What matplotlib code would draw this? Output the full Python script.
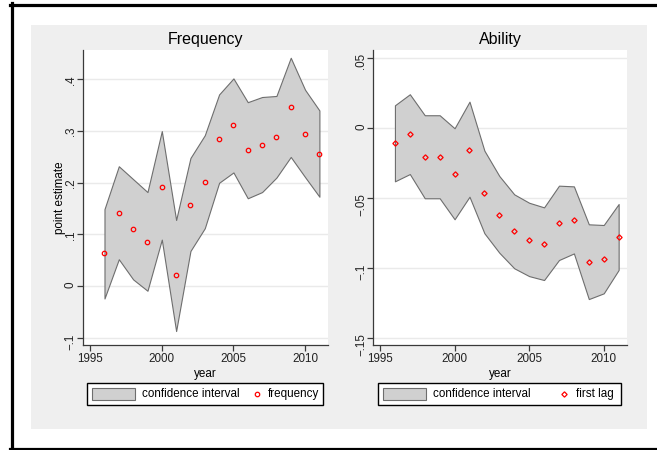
import matplotlib
matplotlib.use("Agg")
import matplotlib.pyplot as plt
from matplotlib.lines import Line2D
from matplotlib.patches import Rectangle

W, H = 657, 450

years = list(range(1996, 2012))

# Frequency: point estimates with confidence bounds
freq_est = [0.065, 0.142, 0.110, 0.086, 0.192, 0.021, 0.157, 0.201,
            0.284, 0.311, 0.263, 0.273, 0.288, 0.346, 0.295, 0.256]
freq_lo = [-0.024, 0.052, 0.013, -0.009, 0.090, -0.087, 0.068, 0.112,
           0.200, 0.220, 0.170, 0.182, 0.210, 0.250, 0.211, 0.173]
freq_hi = [0.149, 0.232, 0.207, 0.182, 0.300, 0.128, 0.248, 0.292,
           0.371, 0.402, 0.356, 0.366, 0.368, 0.442, 0.380, 0.340]

# Ability: first lag estimates with confidence bounds
abil_est = [-0.0111, -0.0047, -0.0207, -0.0207, -0.0329, -0.0157, -0.0464, -0.0626,
            -0.0738, -0.0800, -0.0831, -0.0680, -0.0659, -0.0957, -0.0940, -0.0783]
abil_lo = [-0.0383, -0.0331, -0.0504, -0.0504, -0.0654, -0.0493, -0.0754, -0.0893,
           -0.1004, -0.1060, -0.1088, -0.0945, -0.0898, -0.1224, -0.1183, -0.1016]
abil_hi = [0.0160, 0.0239, 0.0089, 0.0089, -0.0004, 0.0186, -0.0164, -0.0345,
           -0.0476, -0.0536, -0.0569, -0.0414, -0.0419, -0.0690, -0.0695, -0.0545]

xticks = [1995, 2000, 2005, 2010]
freq_yticks = [-0.1, 0, 0.1, 0.2, 0.3, 0.4]
freq_ylabels = ["\u2212.1", "0", ".1", ".2", ".3", ".4"]
abil_yticks = [-0.15, -0.1, -0.05, 0, 0.05]
abil_ylabels = ["\u2212.15", "\u2212.1", "\u2212.05", "0", ".05"]

CI_FILL = "#d0d0d0"
CI_EDGE = "#6e6e6e"
PANEL_BG = "#efefef"
GRID = "#eaeaea"
AXIS = "#3a3a3a"
SMALL = 8.4

plt.rcParams["font.family"] = ["Liberation Sans", "DejaVu Sans"]


def fig_box(x0, y0, x1, y1):
    """Pixel box (top-left origin) -> figure fraction [left, bottom, w, h]."""
    return [x0 / W, 1 - y1 / H, (x1 - x0) / W, (y1 - y0) / H]


def fig_xy(x, y):
    return x / W, 1 - y / H


def draw_panel(ax, title, est, lo, hi, marker, ms, yticks, ylabels, ylim, xlim):
    ax.fill_between(years, lo, hi, facecolor=CI_FILL, edgecolor=CI_EDGE,
                    linewidth=0.8, zorder=2)
    ax.plot(years, est, linestyle="none", marker=marker, ms=ms, mfc="none",
            mec="red", mew=0.9, zorder=3)
    ax.set_xlim(xlim)
    ax.set_ylim(ylim)
    ax.set_xticks(xticks)
    ax.set_yticks(yticks, ylabels)
    for lab in ax.get_yticklabels():
        lab.set_rotation(90)
    ax.yaxis.grid(True, color=GRID, linewidth=1.0)
    ax.set_axisbelow(True)
    for side in ("top", "right"):
        ax.spines[side].set_visible(False)
    for side in ("left", "bottom"):
        ax.spines[side].set_color(AXIS)
        ax.spines[side].set_linewidth(0.9)
    ax.tick_params(length=4, width=0.9, color=AXIS, labelsize=SMALL,
                   labelcolor="#222222")
    ax.tick_params(axis="x", pad=2)
    ax.tick_params(axis="y", pad=0.5)
    ax.set_title(title, fontsize=11.5, pad=4)
    ax.set_xlabel("year", fontsize=SMALL, labelpad=2)


def draw_key(fig, x0, x1, marker_x, marker, ms, label):
    y0, y1 = 382.7, 405.0
    yc = (y0 + y1) / 2
    fx, fy = fig_xy(x0, y1)
    fig.add_artist(Rectangle((fx, fy), (x1 - x0) / W, (y1 - y0) / H,
                             transform=fig.transFigure, facecolor="white",
                             edgecolor="black", linewidth=1.0))
    sx, sy = fig_xy(x0 + 5, yc + 6)
    fig.add_artist(Rectangle((sx, sy), 43 / W, 12 / H,
                             transform=fig.transFigure, facecolor=CI_FILL,
                             edgecolor=CI_EDGE, linewidth=0.8))
    tx, ty = fig_xy(x0 + 55, yc)
    fig.text(tx, ty, "confidence interval", fontsize=SMALL, va="center")
    mx, my = fig_xy(marker_x, yc)
    fig.add_artist(Line2D([mx], [my], transform=fig.transFigure, marker=marker,
                          ms=ms, mfc="none", mec="red", mew=0.9))
    tx2, _ = fig_xy(marker_x + 11.5, yc)
    fig.text(tx2, ty, label, fontsize=SMALL, va="center")


fig = plt.figure(figsize=(W / 100, H / 100), dpi=100)

# outer frame (top, left, bottom) and grey plot region
for (xa, ya), (xb, yb) in [((10, 4.8), (657, 4.8)),
                           ((11.5, 3.3), (11.5, 450)),
                           ((10, 448.6), (657, 448.6))]:
    p0, p1 = fig_xy(xa, ya), fig_xy(xb, yb)
    fig.add_artist(Line2D([p0[0], p1[0]], [p0[1], p1[1]],
                          transform=fig.transFigure, color="black", linewidth=2.3))
bx, by = fig_xy(31, 429)
fig.add_artist(Rectangle((bx, by), (647 - 31) / W, (429 - 25) / H,
                         transform=fig.transFigure, facecolor=PANEL_BG,
                         edgecolor="none", zorder=0))

ax1 = fig.add_axes(fig_box(83, 50, 328, 345))
draw_panel(ax1, "Frequency", freq_est, freq_lo, freq_hi, "o", 3.2,
           freq_yticks, freq_ylabels, (-0.114, 0.457), (1994.5, 2011.6))
ax1.set_ylabel("point estimate", fontsize=SMALL, labelpad=-1)

ax2 = fig.add_axes(fig_box(373.3, 50, 626.7, 345))
draw_panel(ax2, "Ability", abil_est, abil_lo, abil_hi, "D", 2.7,
           abil_yticks, abil_ylabels, (-0.1552, 0.0555), (1994.55, 2011.54))

draw_key(fig, 86.7, 323.3, 256.7, "o", 3.2, "frequency")
draw_key(fig, 378.3, 621.0, 564.0, "D", 2.7, "first lag")

fig.savefig("out.png", dpi=100)
